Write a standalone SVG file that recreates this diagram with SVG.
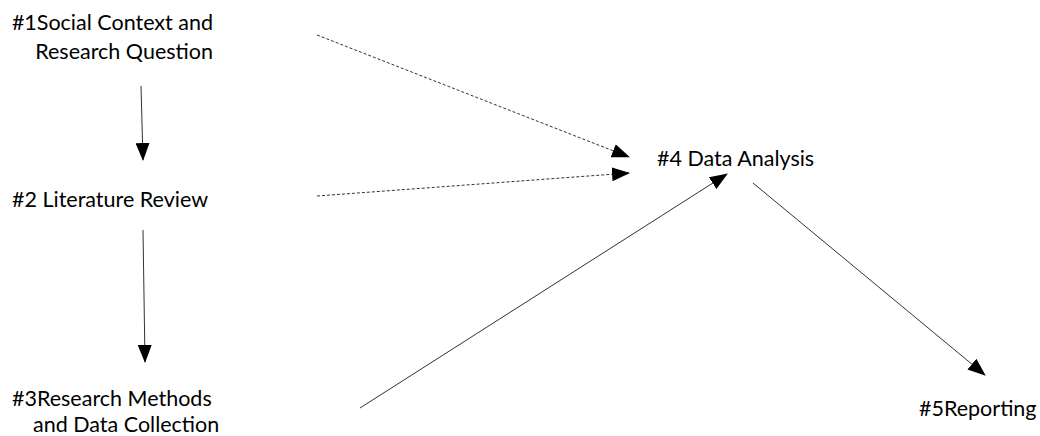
<svg xmlns="http://www.w3.org/2000/svg" width="1040" height="436" viewBox="0 0 1040 436">
<style>
text{font-family:Lato,"Liberation Sans",sans-serif;font-size:21.5px;fill:#000}
.c{stroke:#333;stroke-width:1;fill:none;marker-end:url(#ah)}
.d{stroke-dasharray:3 2}
</style>
<defs>
<marker id="ah" markerUnits="userSpaceOnUse" markerWidth="18" markerHeight="14" refX="17" refY="7" orient="auto" viewBox="0 0 18 14">
<path d="M0,0 L18,7 L0,14 z" fill="#000"/>
</marker>
</defs>
<rect width="1040" height="436" fill="#fff"/>
<g id="n1"><text x="213" y="30" text-anchor="end">#1Social Context and</text><text x="213" y="59" text-anchor="end">Research Question</text></g>
<g id="n2"><text x="12" y="207">#2 Literature Review</text></g>
<g id="n3"><text x="12" y="406">#3Research Methods</text><text x="33" y="432">and Data Collection</text></g>
<g id="n4"><text x="657" y="166">#4 Data Analysis</text></g>
<g id="n5"><text x="919" y="416">#5Reporting</text></g>
<g id="connectors">
<line class="c" x1="141" y1="86" x2="143" y2="160"/>
<line class="c" x1="143" y1="230" x2="145" y2="362"/>
<line class="c d" x1="317" y1="35" x2="629" y2="157"/>
<line class="c d" x1="317" y1="196" x2="629" y2="173"/>
<line class="c" x1="360" y1="408" x2="727" y2="174"/>
<line class="c" x1="753" y1="183" x2="985" y2="375"/>
</g>
</svg>
